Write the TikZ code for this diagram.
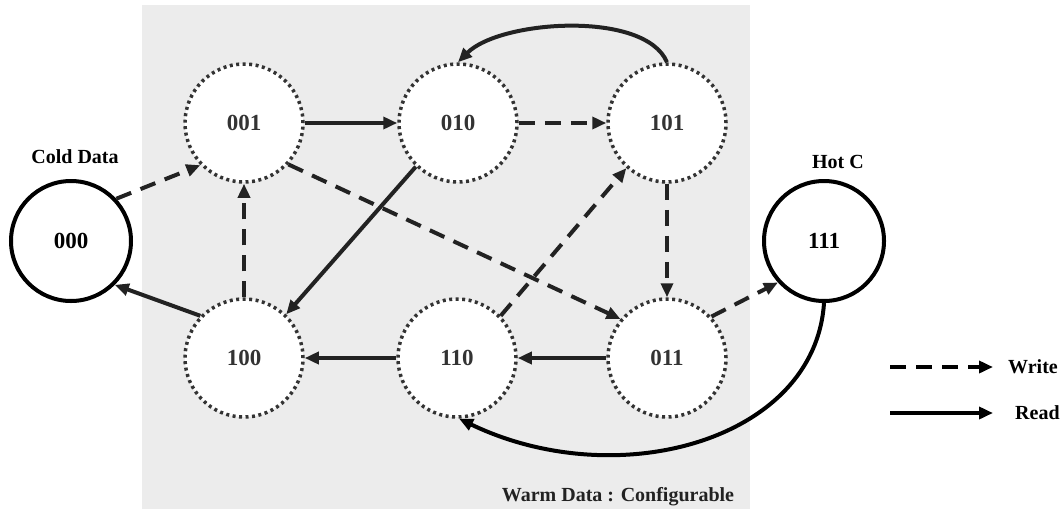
\documentclass[tikz,border=0pt]{standalone}
\usepackage{fontspec}
\setmainfont{Liberation Serif}
\usetikzlibrary{arrows.meta}
\definecolor{bggray}{HTML}{ECECEC}
\definecolor{dotgray}{HTML}{333333}
\definecolor{edgegray}{HTML}{222222}
\begin{document}
\begin{tikzpicture}[x=1pt,y=-1pt,
  state/.style={circle, minimum size=118pt, inner sep=0pt, draw=dotgray, line width=3.5pt,
    dash pattern=on 3pt off 3.5pt, fill=white, text=dotgray,
    font=\bfseries\fontsize{23}{23}\selectfont},
  endstate/.style={circle, minimum size=120pt, inner sep=0pt, draw=black, line width=4pt,
    fill=white, text=black, font=\bfseries\fontsize{23}{23}\selectfont},
  lbl/.style={font=\bfseries\fontsize{20}{20}\selectfont, text=black, inner sep=0pt},
  readarrow/.style={draw=edgegray, line width=4pt, -{Triangle[length=14pt,width=12pt]}},
  writearrow/.style={readarrow, dash pattern=on 16pt off 10pt}]
\useasboundingbox (0,0) rectangle (1062,509);
\fill[bggray] (142,5) rectangle (750,509);

% states
\node[endstate] (n000) at (71,241) {000};
\node[endstate] (n111) at (824,241) {111};
\node[state] (n001) at (244,123) {001};
\node[state] (n010) at (458,123) {010};
\node[state] (n101) at (667,123) {101};
\node[state] (n100) at (244,358) {100};
\node[state] (n110) at (457,358) {110};
\node[state] (n011) at (667,358) {011};

% labels
\node[lbl] (cold) at (75,157) {Cold Data};
\node[lbl] (hot) at (838,162) {Hot C};
\node[lbl, text=edgegray] (warm) at (618,497) {Warm Data : Configurable};

% write (dashed) edges
\draw[writearrow] (n000.43) -- (n001.224);
\draw[writearrow] (n010.east) -- (n101.west);
\draw[writearrow] (n001.-43) -- (n011.140);
\draw[writearrow] (n100.north) -- (n001.south);
\draw[writearrow] (n110.44) -- (n101.228);
\draw[writearrow] (n101.south) -- (n011.north);
\draw[writearrow] (n011.43) -- (n111.222);

% read (solid) edges
\draw[readarrow] (n001.east) -- (n010.west);
\draw[readarrow] (n101.north) .. controls (645,10) and (500,20) .. (n010.north);
\draw[readarrow] (n010.226) -- (n100.46);
\draw[readarrow] (n100.136) -- (n000.-45);
\draw[readarrow] (n011.west) -- (n110.east);
\draw[readarrow] (n110.west) -- (n100.east);
\draw[readarrow, draw=black] (n111.south) .. controls (815,440) and (618,495) .. (n110.-88);

% legend
\coordinate (w1) at (890,367);
\coordinate (w2) at (993,367);
\coordinate (r1) at (890,413);
\coordinate (r2) at (993,413);
\draw[writearrow, draw=black] (w1) -- (w2);
\draw[readarrow, draw=black] (r1) -- (r2);
\node[lbl, anchor=west] (wlab) at (1008,367) {Write};
\node[lbl, anchor=west] (rlab) at (1015,413) {Read};
\end{tikzpicture}
\end{document}
